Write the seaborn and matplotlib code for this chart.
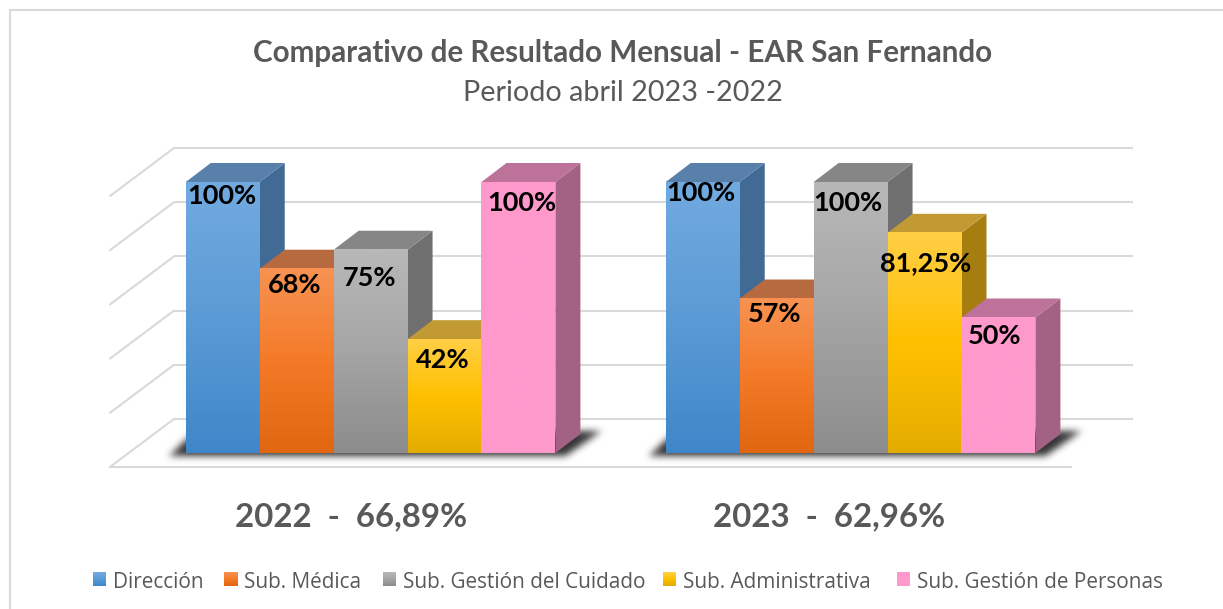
import numpy as np
import pandas as pd
import matplotlib
matplotlib.use("Agg")
import matplotlib.pyplot as plt
from matplotlib.colors import LinearSegmentedColormap
from matplotlib.path import Path
from matplotlib.patches import Polygon
from matplotlib.transforms import Affine2D
import seaborn as sns

# values
years = ['2022', '2023']
areas = ['Dirección', 'Sub. Médica', 'Sub. Gestión del Cuidado', 'Sub. Administrativa', 'Sub. Gestión de Personas']
values_2022 = [100, 68, 75, 42, 100]
values_2023 = [100, 57, 100, 81.25, 50]
labels_2022 = ['100%', '68%', '75%', '42%', '100%']
labels_2023 = ['100%', '57%', '100%', '81,25%', '50%']
year_totals = ['2022  -  66,89%', '2023  -  62,96%']
grid_values = [0, 20, 40, 60, 80, 100]

# front gradient (top, middle, bottom), top face, side face
front_colors = [['#72AAE0', '#5B9BD5', '#3F87CA'],
                ['#F79252', '#F47A28', '#E0660F'],
                ['#B8B8B8', '#A5A5A5', '#8C8C8C'],
                ['#FFCF45', '#FFC000', '#E3AC00'],
                ['#FF99CC', '#FF99CC', '#FF99CC']]
top_colors = ['#5880AA', '#B76A3F', '#868686', '#C29A33', '#BD7299']
side_colors = ['#416B94', '#A85A2A', '#6F6F6F', '#A67E10', '#A36184']
text_grey = '#595959'
grid_grey = '#D9D9D9'

W, H = 1223, 609
X0, X_STEP = 370.6, 480    # pixel of first group centre, pixels per group
Y0, Y_STEP = 453, 2.71     # pixel of value 0, pixels per unit
DX, DY = 25 / X_STEP, 19 / Y_STEP   # depth of a bar


def data_x(px):
    return (px - X0) / X_STEP


def data_y(py):
    return (Y0 - py) / Y_STEP


def blurred_shadow(ax, x_a, x_b):
    # polygon mask smoothed with a small gaussian, drawn as a black image with alpha
    x_min, x_max = int(x_a - 40), int(x_b + 75)
    y_min, y_max = 410, 475
    xx, yy = np.meshgrid(np.arange(x_min, x_max) + 0.5, np.arange(y_min, y_max) + 0.5)
    shape = Path([(x_a - 17, 456), (x_b + 10, 456), (x_b + 46, 431), (x_a + 10, 431)])
    mask = shape.contains_points(np.c_[xx.ravel(), yy.ravel()]).reshape(xx.shape).astype(float)
    kernel = np.exp(-np.arange(-12, 13) ** 2 / (2 * 3.6 ** 2))
    kernel = kernel / kernel.sum()
    mask = np.apply_along_axis(lambda r: np.convolve(r, kernel, mode='same'), 0, mask)
    mask = np.apply_along_axis(lambda r: np.convolve(r, kernel, mode='same'), 1, mask)
    rgba = np.zeros(mask.shape + (4,))
    rgba[..., 3] = mask * 0.8
    ax.imshow(rgba, aspect='auto', origin='upper', zorder=2, interpolation='bilinear',
              extent=(data_x(x_min), data_x(x_max), data_y(y_max), data_y(y_min)))


df = pd.DataFrame({
    'year': np.repeat(years, len(areas)),
    'area': areas * 2,
    'value': values_2022 + values_2023,
})

sns.set_theme(style='white')
plt.rcParams['font.family'] = ['Lato', 'DejaVu Sans']

fig = plt.figure(figsize=(W / 100, H / 100), dpi=100)
ax = fig.add_axes([0, 0, 1, 1])
sns.barplot(data=df, x='year', y='value', hue='area', hue_order=areas, order=years,
            palette=[c[1] for c in front_colors], width=0.77, gap=0, legend=False,
            ax=ax, zorder=3)

# pixel coordinates for the text and the frame, y going down
px = Affine2D().scale(1, -1).translate(0, H)

# frame around the chart
for xs, ys in [([10, 1223], [10, 10]), ([10, 10], [10, H])]:
    ax.plot(xs, ys, color=grid_grey, lw=1.5, transform=px, clip_on=False, zorder=1)

# walls: back line, diagonal on the left, front line on the floor
left, right = data_x(174), data_x(1133)
wall_dy, front_dy = 34 / Y_STEP, -14 / Y_STEP
front_x = data_x(110)
for v in grid_values:
    ax.plot([left, right], [v + wall_dy] * 2, color=grid_grey, lw=1.5, zorder=1, solid_capstyle='butt')
    ax.plot([front_x, left], [v + front_dy, v + wall_dy], color=grid_grey, lw=1.5, zorder=1)
ax.plot([front_x, data_x(1071)], [front_dy] * 2, color=grid_grey, lw=1.5, zorder=1)

bars = sorted(ax.patches, key=lambda p: p.get_x())

# soft shadow on the floor under each group
for g in range(len(years)):
    group = bars[g * len(areas):(g + 1) * len(areas)]
    x_a = X0 + X_STEP * group[0].get_x()
    x_b = X0 + X_STEP * (group[-1].get_x() + group[-1].get_width())
    blurred_shadow(ax, x_a, x_b)

# depth faces and gradient fronts, left to right so each bar covers the one before
for i, bar in enumerate(bars):
    k = i % len(areas)
    x, w, h = bar.get_x(), bar.get_width(), bar.get_height()
    z = 3 + i
    ax.add_patch(Polygon([(x + w, 0), (x + w + DX, DY), (x + w + DX, h + DY), (x + w, h)],
                         closed=True, facecolor=side_colors[k], edgecolor='none', zorder=z))
    ax.add_patch(Polygon([(x, h), (x + w, h), (x + w + DX, h + DY), (x + DX, h + DY)],
                         closed=True, facecolor=top_colors[k], edgecolor='none', zorder=z))
    cmap = LinearSegmentedColormap.from_list('front%d' % k, front_colors[k])
    ax.imshow(np.linspace(0, 1, 128).reshape(-1, 1), cmap=cmap, aspect='auto',
              extent=(x, x + w, 0, h), origin='upper', zorder=z + 0.5, interpolation='bilinear')
    bar.set_visible(False)

# data labels
label_pos = [(222, 196), (295, 285), (369, 278), (443, 360), (522, 203),
             (701, 193), (775, 314), (848, 203), (926, 263), (995, 336)]
for text, (lx, ly) in zip(labels_2022 + labels_2023, label_pos):
    ax.text(lx, ly, text, transform=px, ha='center', va='center', fontsize=19.5,
            fontweight='bold', color='black', zorder=30)

# titles
ax.text(623, 53, 'Comparativo de Resultado Mensual - EAR San Fernando', transform=px, ha='center',
        va='center', fontsize=21.3, fontweight='bold', color=text_grey)
ax.text(623, 93, 'Periodo abril 2023 -2022', transform=px, ha='center', va='center',
        fontsize=20.7, color=text_grey)
for text, cx in zip(year_totals, [351, 829.5]):
    ax.text(cx, 517, text, transform=px, ha='center', va='center', fontsize=23.8,
            fontweight='bold', color=text_grey)

# legend
swatch_x = [93, 224, 383, 663, 897]
for area, sx, colors in zip(areas, swatch_x, front_colors):
    cmap = LinearSegmentedColormap.from_list('sw', colors)
    ax.imshow(np.linspace(0, 1, 32).reshape(-1, 1), cmap=cmap, aspect='auto',
              extent=(data_x(sx), data_x(sx + 13), data_y(586), data_y(573)),
              origin='upper', zorder=5, interpolation='bilinear')
    ax.text(sx + 20, 582, area, transform=px, ha='left', va='center', fontsize=14.95,
            color=text_grey, family=['Open Sans', 'DejaVu Sans'])

ax.set_xlim(data_x(0), data_x(W))
ax.set_ylim(data_y(H), data_y(0))
ax.axis('off')

fig.savefig('out.png', dpi=100, facecolor='white')
